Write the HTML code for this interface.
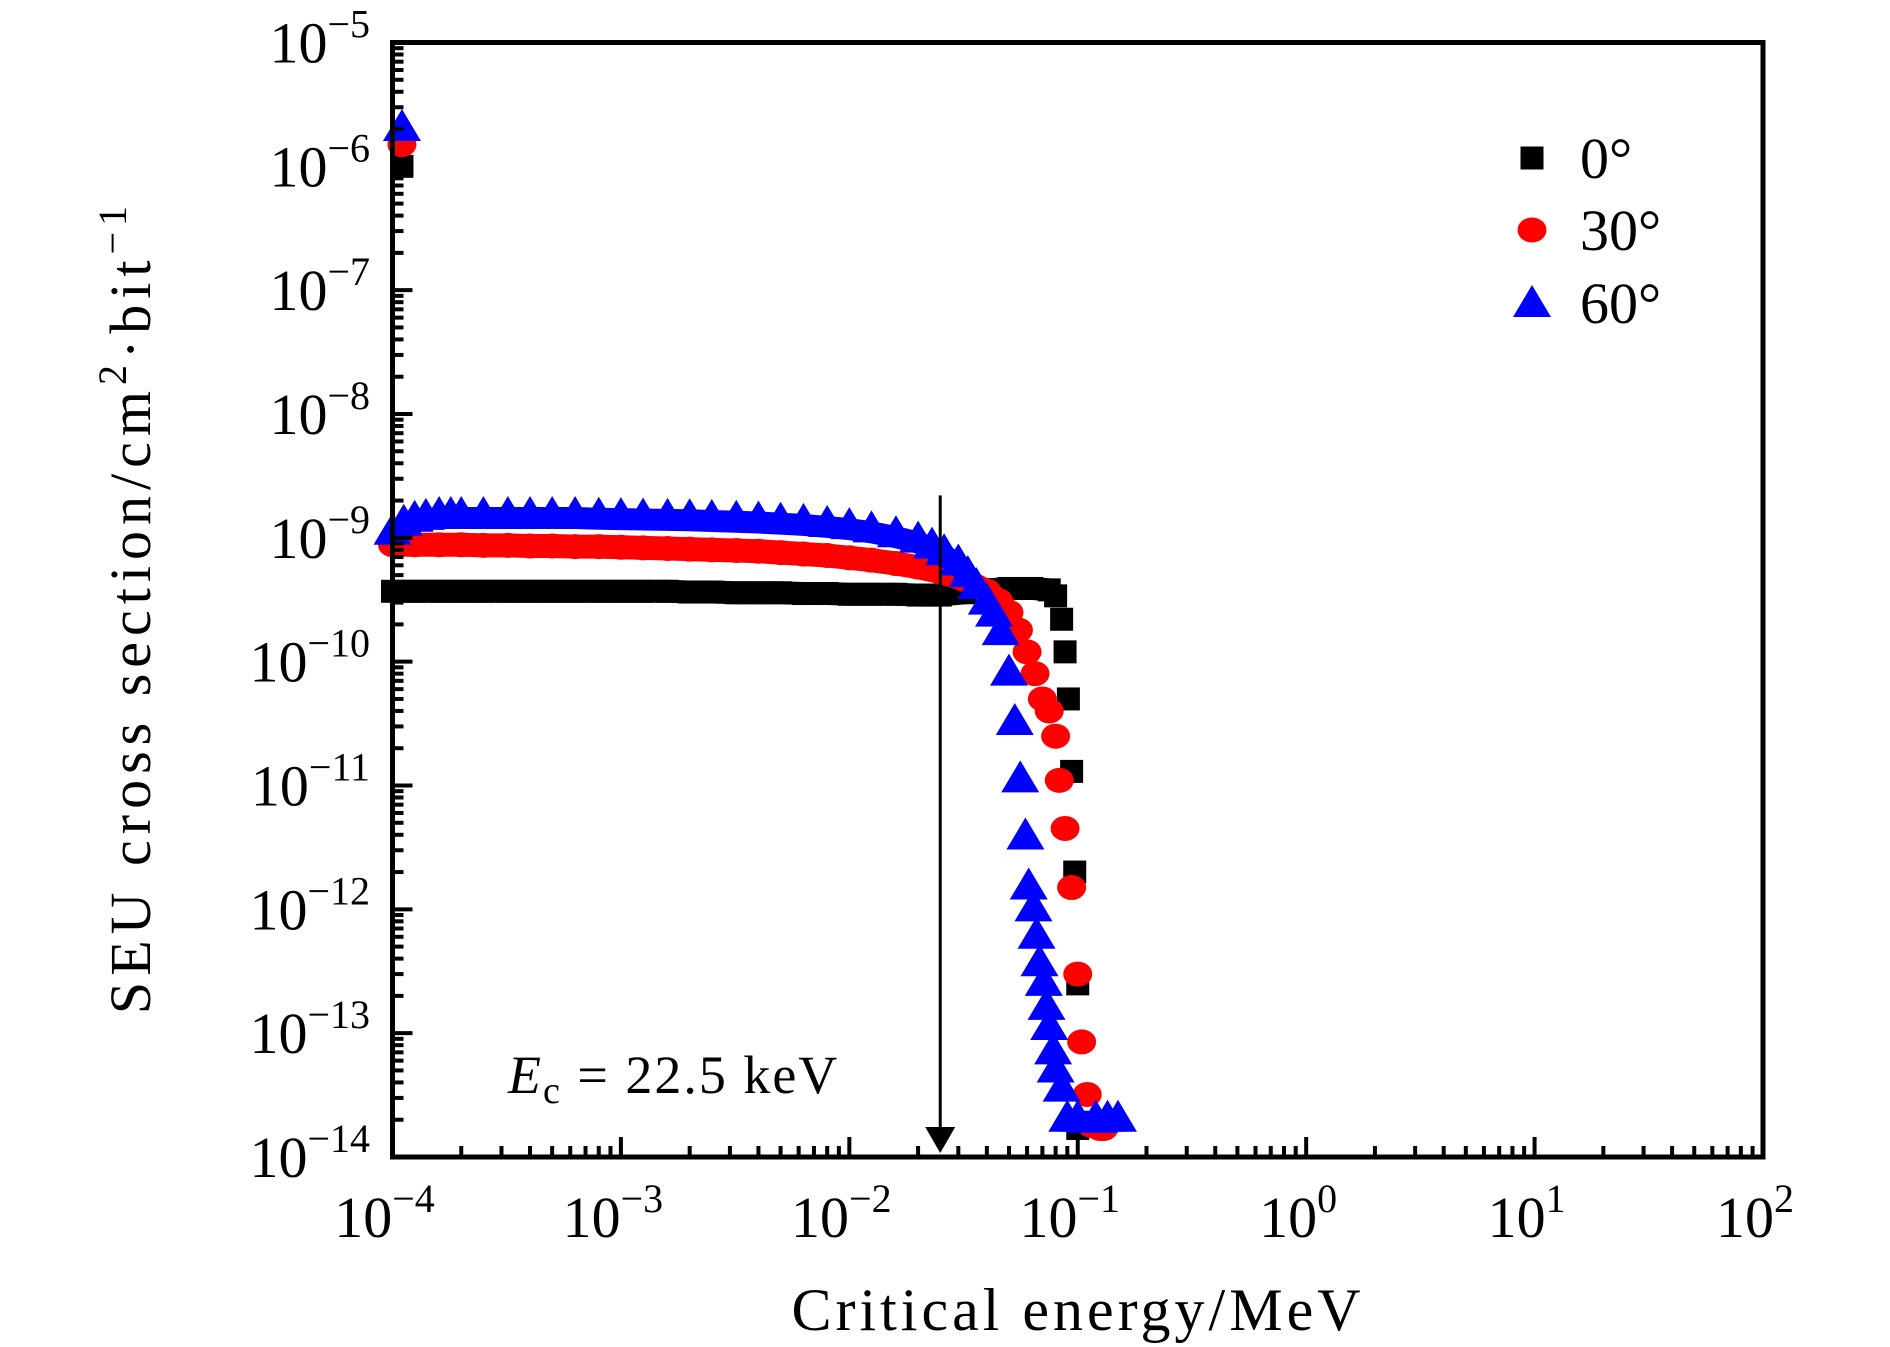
<!DOCTYPE html>
<html><head><meta charset="utf-8">
<style>
html,body{margin:0;padding:0;background:#fff;}
svg{display:block;}
text{font-family:"Liberation Serif","DejaVu Serif",serif;fill:#000;}
</style></head>
<body>
<svg id="chart" width="1890" height="1347" viewBox="0 0 1890 1347" xmlns="http://www.w3.org/2000/svg">
<g id="marks"></g>
<g id="axes"></g>
<text transform="translate(150,607) rotate(-90)" text-anchor="middle" font-size="58" letter-spacing="6">SEU cross section/cm<tspan font-size="40" dy="-24">2</tspan><tspan dy="24">·bit</tspan><tspan font-size="40" dy="-24">−1</tspan></text>
<text x="1078" y="1330" text-anchor="middle" font-size="60" letter-spacing="4">Critical energy/MeV</text>
<g id="legend"></g>
<g>
<text x="508" y="1093" font-size="54" letter-spacing="2"><tspan font-style="italic">E</tspan><tspan font-size="38" dy="10">c</tspan><tspan dy="-10"> = 22.5 keV</tspan></text>
</g>
</svg>
<script>
const xTickExps = [-4,-3,-2,-1,0,1,2];
const yTickExps = [-5,-6,-7,-8,-9,-10,-11,-12,-13,-14];
const seriesNames = ["0°","30°","60°"];
const ecValue = 0.025;
const ecLabelTop = 2.2e-9;

const energy0 = [1.1e-4,1e-4,1.25e-4,1.6e-4,2e-4,2.5e-4,3.2e-4,4e-4,5e-4,6.3e-4,8e-4,1e-3,1.25e-3,1.6e-3,2e-3,2.5e-3,3.2e-3,4e-3,5e-3,6.3e-3,8e-3,0.01,0.0125,0.016,0.02,0.025,0.032,0.04,0.05,0.063,0.075,0.08,0.085,0.088,0.091,0.094,0.097,0.1,0.1];
const sigma0 = [1e-6,3.7e-10,3.7e-10,3.7e-10,3.7e-10,3.7e-10,3.7e-10,3.7e-10,3.7e-10,3.7e-10,3.7e-10,3.7e-10,3.7e-10,3.7e-10,3.65e-10,3.65e-10,3.6e-10,3.6e-10,3.6e-10,3.55e-10,3.55e-10,3.5e-10,3.5e-10,3.5e-10,3.45e-10,3.45e-10,3.6e-10,3.8e-10,3.9e-10,3.9e-10,3.8e-10,3.4e-10,2.2e-10,1.2e-10,5e-11,1.3e-11,2e-12,2.5e-13,1.7e-14];

const energy30 = [1.1e-4,1e-4,1.25e-4,1.6e-4,2e-4,2.5e-4,3.2e-4,4e-4,5e-4,6.3e-4,8e-4,1e-3,1.25e-3,1.6e-3,2e-3,2.5e-3,3.2e-3,4e-3,5e-3,6.3e-3,8e-3,0.01,0.0125,0.016,0.02,0.025,0.032,0.04,0.045,0.05,0.055,0.06,0.065,0.07,0.075,0.08,0.083,0.088,0.094,0.1,0.104,0.11,0.115,0.125,0.13];
const sigma30 = [1.5e-6,8.8e-10,8.8e-10,8.8e-10,8.8e-10,8.7e-10,8.7e-10,8.6e-10,8.6e-10,8.5e-10,8.5e-10,8.4e-10,8.3e-10,8.2e-10,8.1e-10,8e-10,7.9e-10,7.8e-10,7.6e-10,7.4e-10,7.2e-10,6.9e-10,6.6e-10,6.2e-10,5.8e-10,5.3e-10,4.6e-10,3.7e-10,3.1e-10,2.5e-10,1.8e-10,1.2e-10,8e-11,5e-11,4e-11,2.5e-11,1.1e-11,4.5e-12,1.5e-12,3e-13,8.5e-14,3.2e-14,1.8e-14,1.7e-14,1.7e-14];

const energy60 = [1.1e-4,1e-4,1.12e-4,1.25e-4,1.4e-4,1.6e-4,1.8e-4,2e-4,2.5e-4,3.2e-4,4e-4,5e-4,6.3e-4,8e-4,1e-3,1.25e-3,1.6e-3,2e-3,2.5e-3,3.2e-3,4e-3,5e-3,6.3e-3,8e-3,0.01,0.0125,0.016,0.02,0.023,0.026,0.03,0.033,0.036,0.04,0.043,0.046,0.05,0.053,0.056,0.059,0.061,0.064,0.066,0.068,0.071,0.073,0.075,0.078,0.08,0.085,0.09,0.1,0.12,0.135,0.15];
const sigma60 = [2e-6,1.1e-9,1.3e-9,1.4e-9,1.45e-9,1.5e-9,1.5e-9,1.5e-9,1.5e-9,1.5e-9,1.5e-9,1.5e-9,1.5e-9,1.48e-9,1.47e-9,1.46e-9,1.45e-9,1.44e-9,1.42e-9,1.4e-9,1.38e-9,1.35e-9,1.32e-9,1.27e-9,1.22e-9,1.15e-9,1.05e-9,9.5e-10,8.5e-10,7.5e-10,6.2e-10,5e-10,4e-10,3e-10,2.4e-10,1.7e-10,8e-11,3.2e-11,1.1e-11,3.8e-12,1.5e-12,1e-12,6e-13,3.6e-13,2.5e-13,1.6e-13,1.1e-13,7e-14,5e-14,3.5e-14,2e-14,2e-14,2e-14,2e-14,2e-14];

const X0=392.5, X1=1763, Y0=42.5, Y1=1157;
const xMinE=-4, xMaxE=2, yMaxE=-5, yMinE=-14;
function xs(v){return X0+(Math.log10(v)-xMinE)/(xMaxE-xMinE)*(X1-X0);}
function ys(v){return Y0+(yMaxE-Math.log10(v))/(yMaxE-yMinE)*(Y1-Y0);}
const NS="http://www.w3.org/2000/svg";
function mk(tag,attrs,parent){const e=document.createElementNS(NS,tag);for(const k in attrs)e.setAttribute(k,attrs[k]);parent.appendChild(e);return e;}
const marks=document.getElementById('marks');
const axes=document.getElementById('axes');
const legend=document.getElementById('legend');

function square(g,cx,cy){return mk('rect',{x:cx-11.5,y:cy-11.5,width:23,height:23,fill:'#000'},g);}
function circle(g,cx,cy){return mk('ellipse',{cx:cx,cy:cy,rx:14.5,ry:12.5,fill:'#ff0000'},g);}
function tri(g,cx,cy){return mk('polygon',{points:`${cx},${cy-20} ${cx-19},${cy+12} ${cx+19},${cy+12}`,fill:'#0000ff'},g);}

function drawSeries(name,ex,sy,fn,color,bandW,bandOff){
  const g=mk('g',{},marks);
  
  
  for(let i=1;i<ex.length-1;i++){
    const xa=xs(ex[i]),ya=ys(sy[i]),xb=xs(ex[i+1]),yb=ys(sy[i+1]);
    if(Math.abs(xb-xa)<45 && Math.abs(yb-ya)<12){
      const s=mk('line',{x1:xa,y1:ya+bandOff,x2:xb,y2:yb+bandOff,stroke:color,'stroke-width':bandW},g);
      
      
    }
  }
  for(let i=0;i<ex.length;i++){
    const e=fn(g,xs(ex[i]),ys(sy[i]));
    
    
  }
}
drawSeries('series-0-deg',energy0,sigma0,square,'#000',23,0);
drawSeries('series-30-deg',energy30,sigma30,circle,'#ff0000',24,0);
drawSeries('series-60-deg',energy60,sigma60,tri,'#0000ff',22,2);

const ax=xs(ecValue);
const al=mk('line',{x1:ax,y1:ys(ecLabelTop),x2:ax,y2:1130,stroke:'#000','stroke-width':3},marks);


const ah=mk('polygon',{points:`${ax-15},1127 ${ax+15},1127 ${ax},1153`,fill:'#000'},marks);



const fr=mk('rect',{x:X0,y:Y0,width:X1-X0,height:Y1-Y0,fill:'none',stroke:'#000','stroke-width':5},axes);



xTickExps.forEach(e=>{
  const x=xs(Math.pow(10,e));
  const t=mk('line',{x1:x,y1:Y1,x2:x,y2:Y1-20,stroke:'#000','stroke-width':4},axes);
  
  
  if(e<xMaxE){for(let m=2;m<10;m++){const xm=xs(m*Math.pow(10,e));
    const tm=mk('line',{x1:xm,y1:Y1,x2:xm,y2:Y1-11,stroke:'#000','stroke-width':4},axes);
    
    }}
  const lb=mk('text',{x:x-8,y:1237,'text-anchor':'middle','font-size':58},axes);
  
  
  lb.innerHTML='10<tspan font-size="40" dy="-25">'+(e<0?'−'+(-e):e)+'</tspan>';
});
yTickExps.forEach(e=>{
  const y=ys(Math.pow(10,e));
  const t=mk('line',{x1:X0,y1:y,x2:X0+20,y2:y,stroke:'#000','stroke-width':4},axes);
  
  
  if(e>yMinE){for(let m=2;m<10;m++){const ym=ys(m*Math.pow(10,e-1));
    const tm=mk('line',{x1:X0,y1:ym,x2:X0+11,y2:ym,stroke:'#000','stroke-width':4},axes);
    
    }}
  const lb=mk('text',{x:370,y:y+20,'text-anchor':'end','font-size':58},axes);
  
  
  lb.innerHTML='10<tspan font-size="40" dy="-25">−'+(-e)+'</tspan>';
});

const legY=[158,230,303];
const legFns=[square,circle,tri];
seriesNames.forEach((n,i)=>{
  const g=mk('g',{},legend);
  
  
  const m=legFns[i](g,1532,legY[i]+(i==2?2:0));
  
  
  const t=mk('text',{x:1580,y:legY[i]+20,'font-size':58},g);
  
  
  t.textContent=n;
});
</script>
</body></html>
